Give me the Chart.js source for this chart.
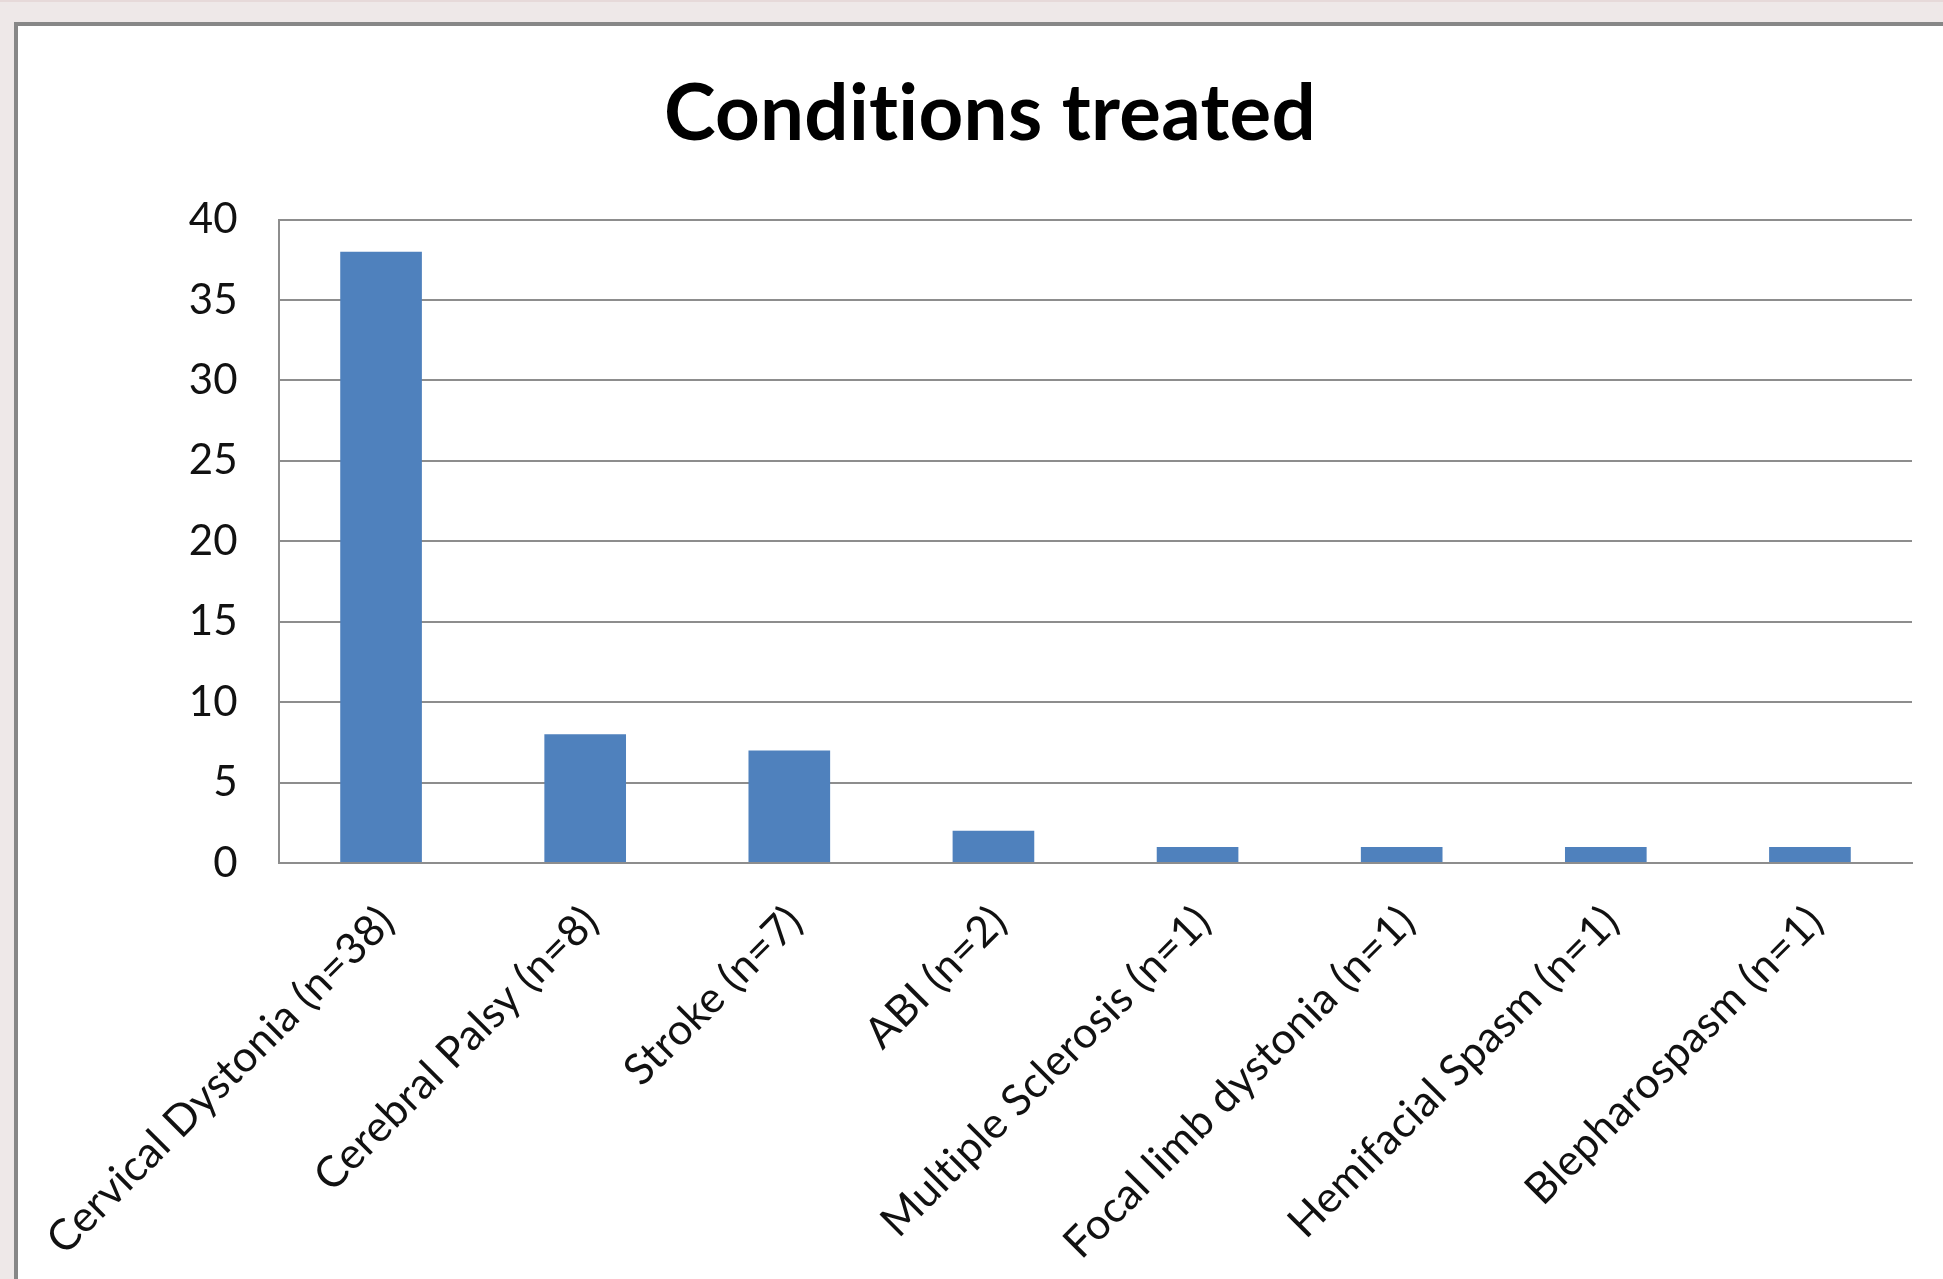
<!DOCTYPE html>
<html>
<head>
<meta charset="utf-8">
<title>Conditions treated</title>
<script src="https://cdn.jsdelivr.net/npm/chart.js@4.4.1/dist/chart.umd.min.js"></script>
<style>
  html, body { margin: 0; padding: 0; }
  body {
    width: 1943px; height: 1279px; overflow: hidden; position: relative;
    background: #eee8e8;
    border-top: 2px solid #e6d9d9;
    box-sizing: border-box;
  }
  #frame {
    position: absolute; left: 14px; top: 20px; right: 0; bottom: 0;
    background: #ffffff;
    border-left: 4px solid #878787;
    border-top: 4px solid #878787;
  }
  #chart { position: absolute; left: 0; top: 0; font-variant-ligatures: none; }
</style>
</head>
<body>
<div id="frame"></div>
<canvas id="chart" width="1943" height="1279"></canvas>
<script>
// Patients per condition
const conditions = [
  'Cervical Dystonia (n=38)',
  'Cerebral Palsy (n=8)',
  'Stroke (n=7)',
  'ABI (n=2)',
  'Multiple Sclerosis (n=1)',
  'Focal limb dystonia (n=1)',
  'Hemifacial Spasm (n=1)',
  'Blepharospasm (n=1)'
];
const patientCounts = [38, 8, 7, 2, 1, 1, 1, 1];
const yAxisMax = 40;
const yAxisStep = 5;

const FONT = 'Lato, "Open Sans", "Noto Sans", sans-serif';
const GRID = '#8d8d8d';

// Keep the font from merging "ti" into a ligature
const noLigatures = {
  id: 'noLigatures',
  beforeDraw(chart) {
    const ctx = chart.ctx;
    if ('textRendering' in ctx) ctx.textRendering = 'optimizeSpeed';
    if ('letterSpacing' in ctx) ctx.letterSpacing = '0.3px';
  }
};

new Chart(document.getElementById('chart'), {
  type: 'bar',
  data: {
    labels: conditions,
    datasets: [{
      data: patientCounts,
      backgroundColor: '#4f81bd',
      borderWidth: 0,
      categoryPercentage: 1.0,
      barPercentage: 0.4
    }]
  },
  plugins: [noLigatures],
  options: {
    responsive: false,
    animation: false,
    devicePixelRatio: 1,
    layout: { padding: { left: 68, right: 31, top: 0, bottom: 0 } },
    plugins: {
      legend: { display: false },
      tooltip: { enabled: false },
      title: {
        display: true,
        text: 'Conditions treated',
        color: '#000000',
        font: { family: FONT, size: 78, weight: 'bold' },
        padding: { top: 66, bottom: 58 }
      }
    },
    scales: {
      x: {
        grid: { display: false, drawTicks: false },
        border: { display: true, color: GRID, width: 2 },
        ticks: {
          color: '#111111',
          font: { family: FONT, size: 43 },
          minRotation: 45,
          maxRotation: 45,
          autoSkip: false,
          padding: 33,
          labelOffset: 6
        },
        afterFit(scale) {
          scale.height = 418;
          // long rotated labels may hang past the plot's left edge
          scale.paddingLeft = 0;
          scale.paddingRight = 0;
        }
      },
      y: {
        min: 0,
        max: yAxisMax,
        grid: { color: GRID, lineWidth: 2, drawTicks: false },
        border: { display: true, color: GRID, width: 2 },
        ticks: {
          stepSize: yAxisStep,
          color: '#111111',
          font: { family: FONT, size: 42 },
          padding: 41
        },
        afterFit(scale) { scale.width = 211; }
      }
    }
  }
});
</script>
</body>
</html>
